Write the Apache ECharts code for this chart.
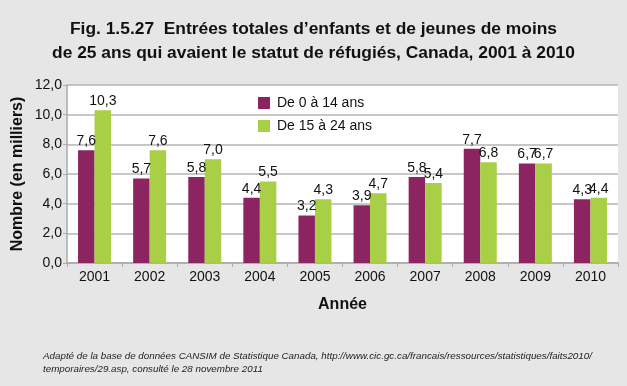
<!DOCTYPE html>
<html><head><meta charset="utf-8">
<script src="https://cdn.jsdelivr.net/npm/echarts@6/dist/echarts.min.js"></script>
<style>html,body{margin:0;padding:0;background:#e6e6e6}#c{width:627px;height:386px}</style>
</head><body><div id="c"></div>
<script>
const years = ['2001','2002','2003','2004','2005','2006','2007','2008','2009','2010'];
const kids = [7.6, 5.7, 5.8, 4.4, 3.2, 3.9, 5.8, 7.7, 6.7, 4.3];
const youth = [10.3, 7.6, 7.0, 5.5, 4.3, 4.7, 5.4, 6.8, 6.7, 4.4];
const seriesNames = ['De 0 à 14 ans', 'De 15 à 24 ans'];
const titleLines = ['Fig. 1.5.27  Entrées totales d\u2019enfants et de jeunes de moins', 'de 25 ans qui avaient le statut de réfugiés, Canada, 2001 à 2010'];
const sourceLines = ['Adapté de la base de données CANSIM de Statistique Canada, http://www.cic.gc.ca/francais/ressources/statistiques/faits2010/', 'temporaires/29.asp, consulté le 28 novembre 2011'];

const FONT = 'Liberation Sans, Arial, sans-serif';
const fmt = v => (typeof v === 'number' ? v : v.value).toFixed(1).replace('.', ',');
const chart = echarts.init(document.getElementById('c'), null, {renderer: 'canvas'});
chart.setOption({
  backgroundColor: '#e6e6e6',
  animation: false,
  title: {
    text: titleLines.join('\n'),
    left: 'center', top: 12,
    textStyle: {fontFamily: FONT, fontWeight: 'bold', fontSize: 17.4, lineHeight: 24, color: '#111'}
  },
  graphic: [{
    type: 'text', left: 43, top: 350,
    style: {text: sourceLines.join('\n'), fontFamily: 'Liberation Sans, sans-serif', fontStyle: 'italic', fontSize: 9.8, lineHeight: 13, fill: '#222'}
  }],
  legend: {
    orient: 'vertical', left: 258, top: 96, padding: 0, itemWidth: 12, itemHeight: 12, itemGap: 9,
    icon: 'rect',
    textStyle: {fontFamily: FONT, fontSize: 14, color: '#111', padding: [0,0,0,2]},
    data: seriesNames
  },
  grid: {left: 67, right: 9, top: 85, bottom: 123, show: true, backgroundColor: '#fff', borderWidth: 0, outerBoundsMode: 'none', containLabel: false},
  xAxis: {
    type: 'category', data: years,
    name: 'Année', nameLocation: 'middle', nameGap: 34,
    nameTextStyle: {fontFamily: FONT, fontWeight: 'bold', fontSize: 16, color: '#111'},
    axisLine: {lineStyle: {color: '#aaa', width: 1.5}},
    axisTick: {show: true, length: 4, lineStyle: {color: '#aaa'}},
    axisLabel: {fontFamily: FONT, fontSize: 14, color: '#111', margin: 7}
  },
  yAxis: {
    type: 'value', min: 0, max: 12, interval: 2,
    name: 'Nombre (en milliers)', nameLocation: 'middle', nameGap: 41, nameMoveOverlap: false,
    nameTextStyle: {fontFamily: FONT, fontWeight: 'bold', fontSize: 16, color: '#111'},
    axisLine: {show: true, lineStyle: {color: '#aaa', width: 1.5}},
    axisTick: {show: true, length: 4, lineStyle: {color: '#aaa'}},
    axisLabel: {fontFamily: FONT, fontSize: 14, color: '#111', margin: 5, formatter: v => v.toFixed(1).replace('.', ',')},
    splitLine: {lineStyle: {color: '#b5b5b5', width: 1.5}}
  },
  series: [
    {name: seriesNames[0], type: 'bar', data: kids, barWidth: 16.5, barGap: '0%',
     itemStyle: {color: '#8c2462'},
     label: {show: true, position: 'top', distance: 2, fontFamily: FONT, fontSize: 14, color: '#111', formatter: p => fmt(p.value)}},
    {name: seriesNames[1], type: 'bar', data: youth, barWidth: 16.5, barGap: '0%',
     itemStyle: {color: '#a8cf45'},
     label: {show: true, position: 'top', distance: 2, fontFamily: FONT, fontSize: 14, color: '#111', formatter: p => fmt(p.value)}}
  ]
});
</script></body></html>
